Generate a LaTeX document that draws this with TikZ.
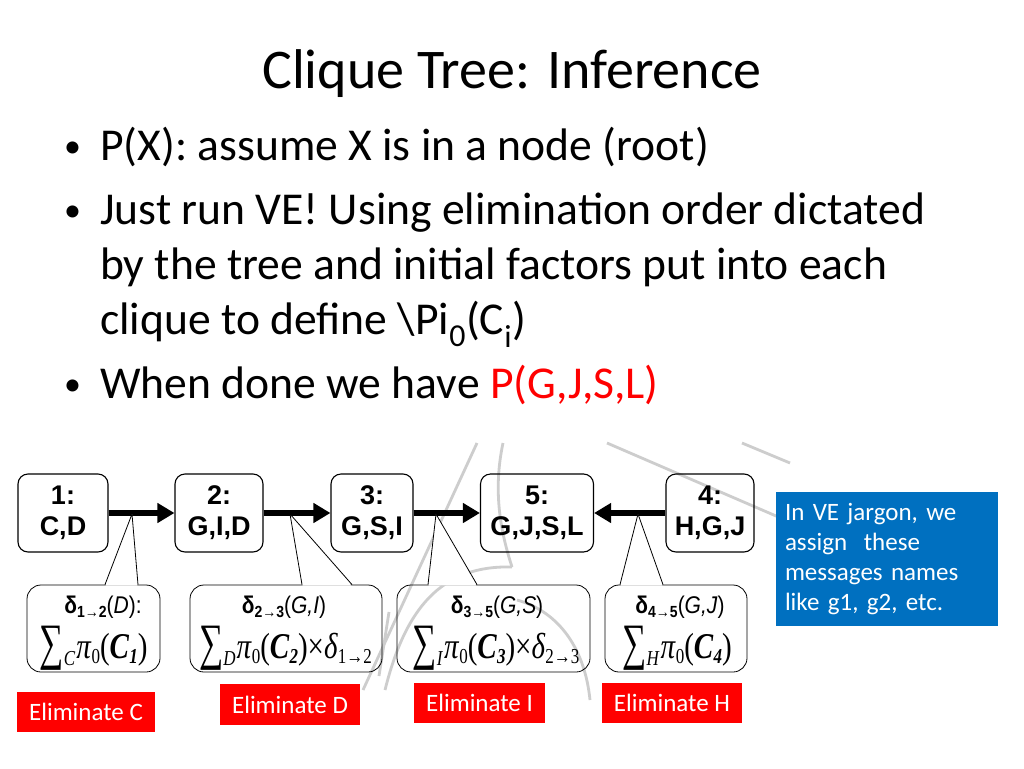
\documentclass[tikz,border=0pt]{standalone}
\usepackage{graphicx}
\usepackage[no-math]{fontspec}
\setmainfont{Carlito}
\newfontfamily\arl{Liberation Sans}
\newfontfamily\tms{Liberation Serif}
\usetikzlibrary{arrows.meta,calc}
\definecolor{slidered}{RGB}{255,0,0}
\definecolor{slideblue}{RGB}{0,112,192}
\definecolor{wm}{RGB}{205,205,205}
% message label, first line of a callout
\newcommand\msglabel[2]{\scalebox{1}[1.15]{\arl\fontsize{21}{22}\selectfont\textbf{δ}\raisebox{-4pt}{\fontsize{14}{14}\selectfont\textbf{#1}}#2}}
% pieces of the formulas (Times-like)
\newcommand\fsub[1]{\raisebox{-4pt}{\fontsize{17}{17}\selectfont #1}}
\newcommand\fsum[1]{\raisebox{-1pt}{\scalebox{1}[1.2]{\fontsize{34}{34}\selectfont ∑}}\raisebox{-6pt}{\fontsize{17}{17}\selectfont\textit{#1}}\kern1pt}
\newcommand\fpi{\textit{π}\fsub{0}}
\newcommand\fC[1]{(\textbf{\textit{C}}\fsub{\textbf{\textit{#1}}})}
\newcommand\formula[1]{\scalebox{1}[1.25]{\tms\fontsize{29}{30}\selectfont #1}}
\begin{document}
\begin{tikzpicture}[x=1pt,y=-1pt,
  clique/.style={draw, line width=1.1pt, rounded corners=10pt, minimum height=78pt,
    inner sep=0pt, align=center, font=\arl\bfseries\fontsize{27}{31}\selectfont},
  flow/.style={line width=6pt, -{Triangle[length=17pt,width=19pt]}},
  callout/.style={draw, line width=0.8pt, rounded corners=14pt, minimum height=87pt,
    inner sep=0pt, align=center},
  ftext/.style={inner sep=0pt},
  pointer/.style={line width=0.8pt},
  elim/.style={fill=slidered, text=white, inner sep=0pt, font=\fontsize{25}{28}\selectfont},
  bullettext/.style={anchor=base west, font=\fontsize{45.6}{52}\selectfont, inner sep=0pt},
  bulletdot/.style={anchor=base west, font=\fontsize{34}{40}\selectfont, inner sep=0pt},
  wmline/.style={draw=wm, line width=2.8pt}
]
\useasboundingbox (0,0) rectangle (1024,768);
\fill[white] (0,0) rectangle (1024,768);

% faint background strokes
\draw[wmline] (477,443) -- (363,690);
\draw[wmline] (389,612) -- (379,676);
\draw[wmline] (503,443) .. controls (493,490) and (500,530) .. (512,567);
\draw[wmline] (385,690) .. controls (405,610) and (440,565) .. (512,567);
\draw[wmline] (517,600) .. controls (560,612) and (585,650) .. (590,700);
\draw[wmline] (607,443) -- (790,522);
\draw[wmline] (742,443) -- (790,463);

% title and bullets
\node[anchor=base, font=\fontsize{56}{60}\selectfont, inner sep=0pt] (title) at (512,88) {Clique Tree: Inference};
\node[bulletdot] (b1) at (64,157) {•};
\node[bullettext] (t1) at (100,160) {P(X): assume X is in a node (root)};
\node[bulletdot] (b2) at (64,221) {•};
\node[bullettext] (t2) at (100,224) {Just run VE! Using elimination order dictated};
\node[bullettext] (t3) at (100,279) {by the tree and initial factors put into each};
\node[bullettext] (t4) at (100,334) {clique to define \textbackslash Pi\textsubscript{0}(C\textsubscript{i})};
\node[bulletdot] (b3) at (64,395) {•};
\node[bullettext] (t5) at (100,398) {When done we have \textcolor{slidered}{P(G,J,S,L)}};

% clique nodes
\node[clique, minimum width=90pt]  (n1) at (63,513)  {1:\\C,D};
\node[clique, minimum width=88pt]  (n2) at (219,513) {2:\\G,I,D};
\node[clique, minimum width=82pt]  (n3) at (372,513) {3:\\G,S,I};
\node[clique, minimum width=113pt] (n5) at (537,513) {5:\\G,J,S,L};
\node[clique, minimum width=88pt]  (n4) at (710,513) {4:\\H,G,J};

\draw[flow] (n1) -- (n2);
\draw[flow] (n2) -- (n3);
\draw[flow] (n3) -- (n5);
\draw[flow] (n4) -- (n5);

% callouts
\node[callout, minimum width=133pt] (c1) at (93.5,628.5) {};
\node[callout, minimum width=192pt] (c2) at (286,628.5) {};
\node[callout, minimum width=193pt] (c3) at (493.5,628.5) {};
\node[callout, minimum width=142pt] (c4) at (676,628.5) {};

\node[inner sep=0pt] (m1) at (103,607) {\msglabel{1→2}{(\textit{D}):}};
\node[inner sep=0pt] (m2) at (284,607) {\msglabel{2→3}{(\textit{G,I})}};
\node[inner sep=0pt] (m3) at (497,607) {\msglabel{3→5}{(\textit{G,S})}};
\node[inner sep=0pt] (m4) at (680,607) {\msglabel{4→5}{(\textit{G,J})}};

\node[ftext] (f1) at (93.5,648) {\formula{\fsum{C}\fpi\fC{1}}};
\node[ftext] (f2) at (285.5,648) {\formula{\fsum{D}\fpi\fC{2}×\textit{δ}\fsub{1→2}}};
\node[ftext] (f3) at (496,648) {\formula{\fsum{I}\fpi\fC{3}×\textit{δ}\fsub{2→3}}};
\node[ftext] (f4) at (677,648) {\formula{\fsum{H}\fpi\fC{4}}};

\coordinate (a1) at (132,514);
\coordinate (a2) at (290,514);
\coordinate (a3) at (436,514);
\coordinate (a4) at (638,514);

\foreach \c/\a/\l/\r in {c1/a1/105/138, c2/a2/302/352, c3/a3/428/477, c4/a4/620/663}{
  \coordinate (pl) at (\l,0);
  \coordinate (pr) at (\r,0);
  \fill[white] ($(\c.north -| pl)+(0.6,1)$) -- (\a) -- ($(\c.north -| pr)+(-0.6,1)$) -- cycle;
  \draw[pointer] (\c.north -| pl) -- (\a) -- (\c.north -| pr);
}

% elimination labels
\node[elim, minimum width=138pt, minimum height=40pt] (eC) at (86,712)    {Eliminate C};
\node[elim, minimum width=140pt, minimum height=41pt] (eD) at (290,704.5) {Eliminate D};
\node[elim, minimum width=131pt, minimum height=40pt] (eI) at (479.5,703) {Eliminate I};
\node[elim, minimum width=140pt, minimum height=40pt] (eH) at (672,703)   {Eliminate H};

% note box
\node[fill=slideblue, text=white, minimum width=222pt, minimum height=134pt,
  text width=204pt, inner xsep=9pt, inner ysep=0pt, align=left,
  font=\fontsize{25}{30}\selectfont] (note) at (887,559)
  {In VE jargon, we\\assign\ \ these\\messages names\\like g1, g2, etc.};
\end{tikzpicture}
\end{document}
